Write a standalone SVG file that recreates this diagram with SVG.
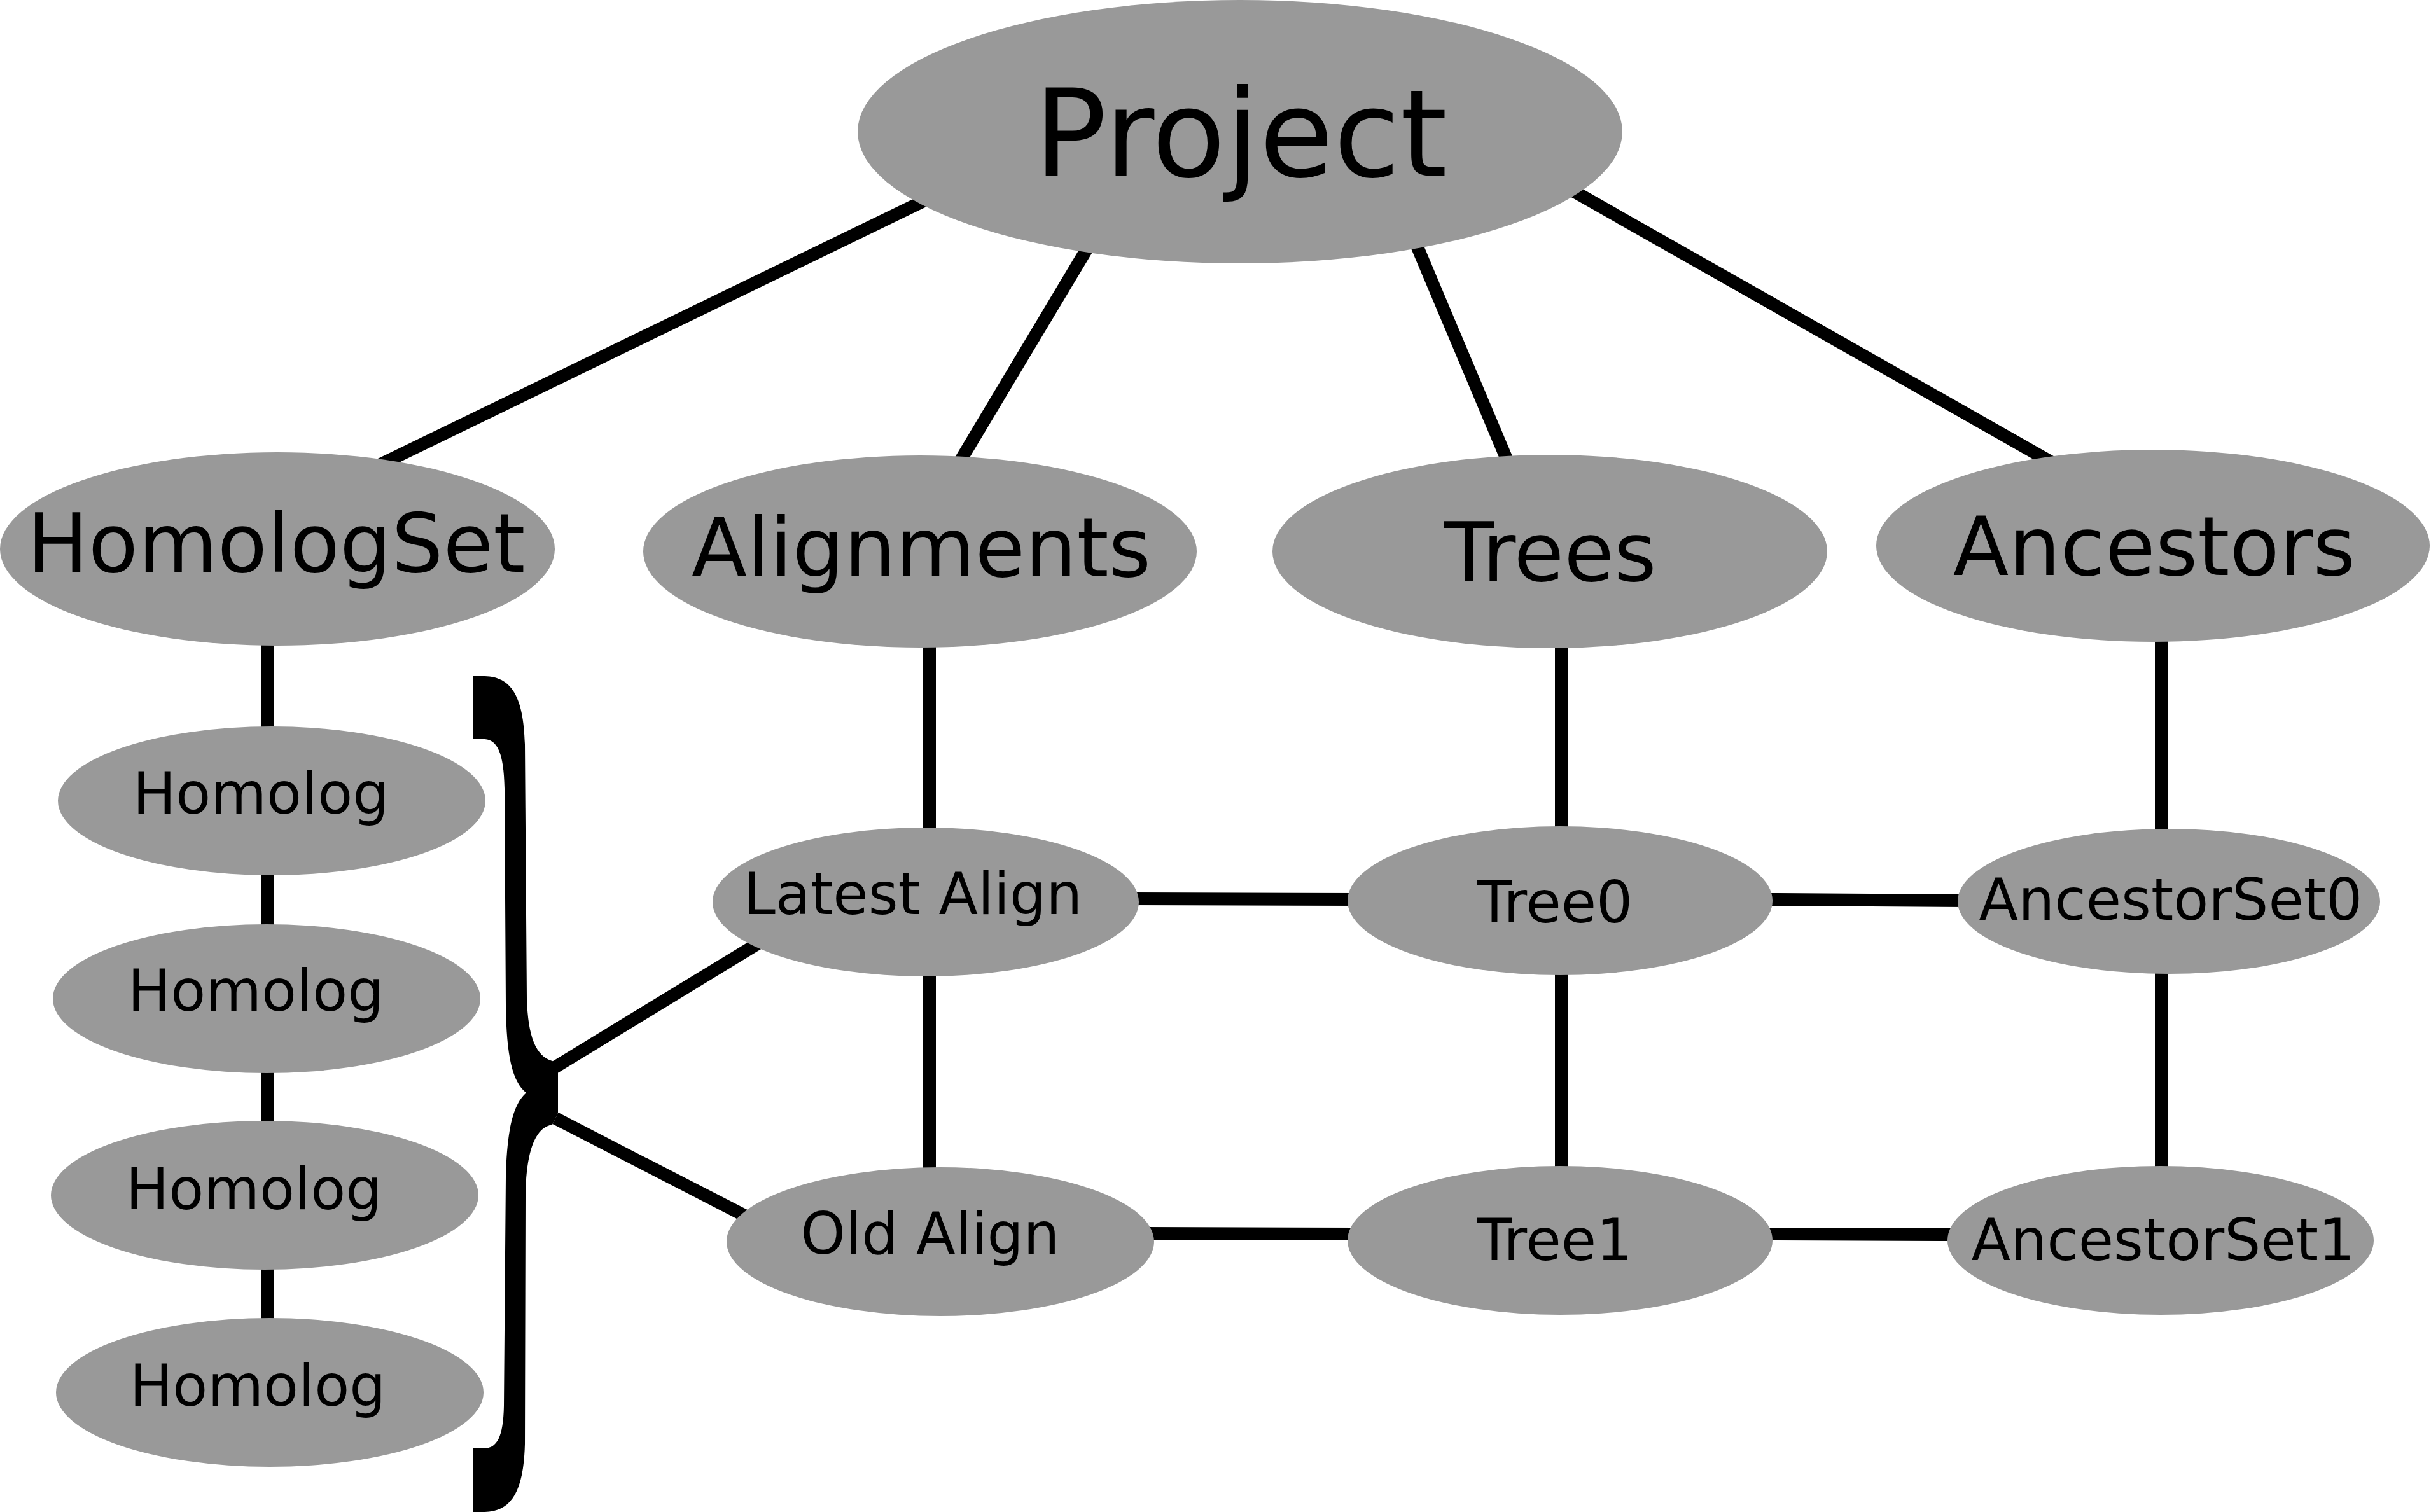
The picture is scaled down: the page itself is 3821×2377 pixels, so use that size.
<svg xmlns="http://www.w3.org/2000/svg" width="3821" height="2377" viewBox="0 0 3821 2377">
<style>
.n{fill:#999999}
.t{font-family:"DejaVu Sans",sans-serif;fill:#000;text-anchor:middle}
.big{font-size:190px}
.mid{font-size:128px}
.sm{font-size:90px}
.c line{stroke:#000;stroke-width:20;fill:none}
</style>
<rect width="3821" height="2377" fill="#fff"/>
<g id="connectors" class="c">
<line x1="590" y1="734" x2="1460" y2="312"/>
<line x1="1720" y1="372" x2="1500" y2="740"/>
<line x1="2218" y1="365" x2="2378" y2="745"/>
<line x1="2460" y1="293" x2="3225" y2="727"/>
<line x1="420" y1="1000" x2="420" y2="2190"/>
<line x1="1461" y1="1000" x2="1461" y2="1850"/>
<line x1="2454" y1="1000" x2="2454" y2="1850"/>
<line x1="3397" y1="1000" x2="3397" y2="1850"/>
<line x1="1780" y1="1413" x2="2130" y2="1414"/>
<line x1="2780" y1="1414" x2="3090" y2="1416"/>
<line x1="1800" y1="1939" x2="2130" y2="1940"/>
<line x1="2780" y1="1940" x2="3070" y2="1941"/>
<line x1="872" y1="1678" x2="1205" y2="1475"/>
<line x1="873" y1="1758" x2="1180" y2="1916"/>
</g>
<g id="brace">
<path d="M743,1063 L760,1063 C802,1063 823,1092 825,1170 L828,1570 C830,1630 842,1660 868,1668 L877,1672 L877,1750 L868,1768 C845,1772 827,1800 826,1880 L825,2270 C823,2348 802,2377 760,2377 L743,2377 L743,2277 L760,2277 C780,2277 791,2262 792,2210 L795,1850 C797,1770 808,1735 827,1718 C805,1700 796,1660 795,1580 L793,1240 C792,1180 780,1162 760,1162 L743,1162 Z" fill="#000"/>
</g>
<g id="project"><ellipse class="n" cx="1949" cy="207" rx="601" ry="207"/><text class="t big" x="1950" y="277">Project</text></g>
<g id="homologset"><ellipse class="n" cx="436" cy="863" rx="436" ry="152"/><text class="t mid" x="434" y="899">HomologSet</text></g>
<g id="alignments"><ellipse class="n" cx="1446" cy="867" rx="435" ry="151"/><text class="t mid" x="1448" y="906">Alignments</text></g>
<g id="trees"><ellipse class="n" cx="2436" cy="867" rx="436" ry="152"/><text class="t mid" x="2437" y="913">Trees</text></g>
<g id="ancestors"><ellipse class="n" cx="3384" cy="858" rx="435" ry="151"/><text class="t mid" x="3386" y="904">Ancestors</text></g>
<g id="homolog1"><ellipse class="n" cx="427" cy="1259" rx="336" ry="117"/><text class="t sm" x="410" y="1279">Homolog</text></g>
<g id="homolog2"><ellipse class="n" cx="419" cy="1570" rx="336" ry="117"/><text class="t sm" x="402" y="1589">Homolog</text></g>
<g id="homolog3"><ellipse class="n" cx="416" cy="1879" rx="336" ry="117"/><text class="t sm" x="399" y="1901">Homolog</text></g>
<g id="homolog4"><ellipse class="n" cx="424" cy="2189" rx="336" ry="117"/><text class="t sm" x="405" y="2210">Homolog</text></g>
<g id="latestalign"><ellipse class="n" cx="1455" cy="1418" rx="335" ry="117"/><text class="t sm" x="1435" y="1437">Latest Align</text></g>
<g id="oldalign"><ellipse class="n" cx="1478" cy="1952" rx="336" ry="117"/><text class="t sm" x="1462" y="1971">Old Align</text></g>
<g id="tree0"><ellipse class="n" cx="2452" cy="1416" rx="334" ry="117"/><text class="t sm" x="2444" y="1450">Tree0</text></g>
<g id="tree1"><ellipse class="n" cx="2452" cy="1950" rx="334" ry="117"/><text class="t sm" x="2444" y="1981">Tree1</text></g>
<g id="ancestorset0"><ellipse class="n" cx="3409" cy="1417" rx="332" ry="114"/><text class="t sm" x="3412" y="1446">AncestorSet0</text></g>
<g id="ancestorset1"><ellipse class="n" cx="3396" cy="1950" rx="335" ry="117"/><text class="t sm" x="3400" y="1981">AncestorSet1</text></g>
</svg>
